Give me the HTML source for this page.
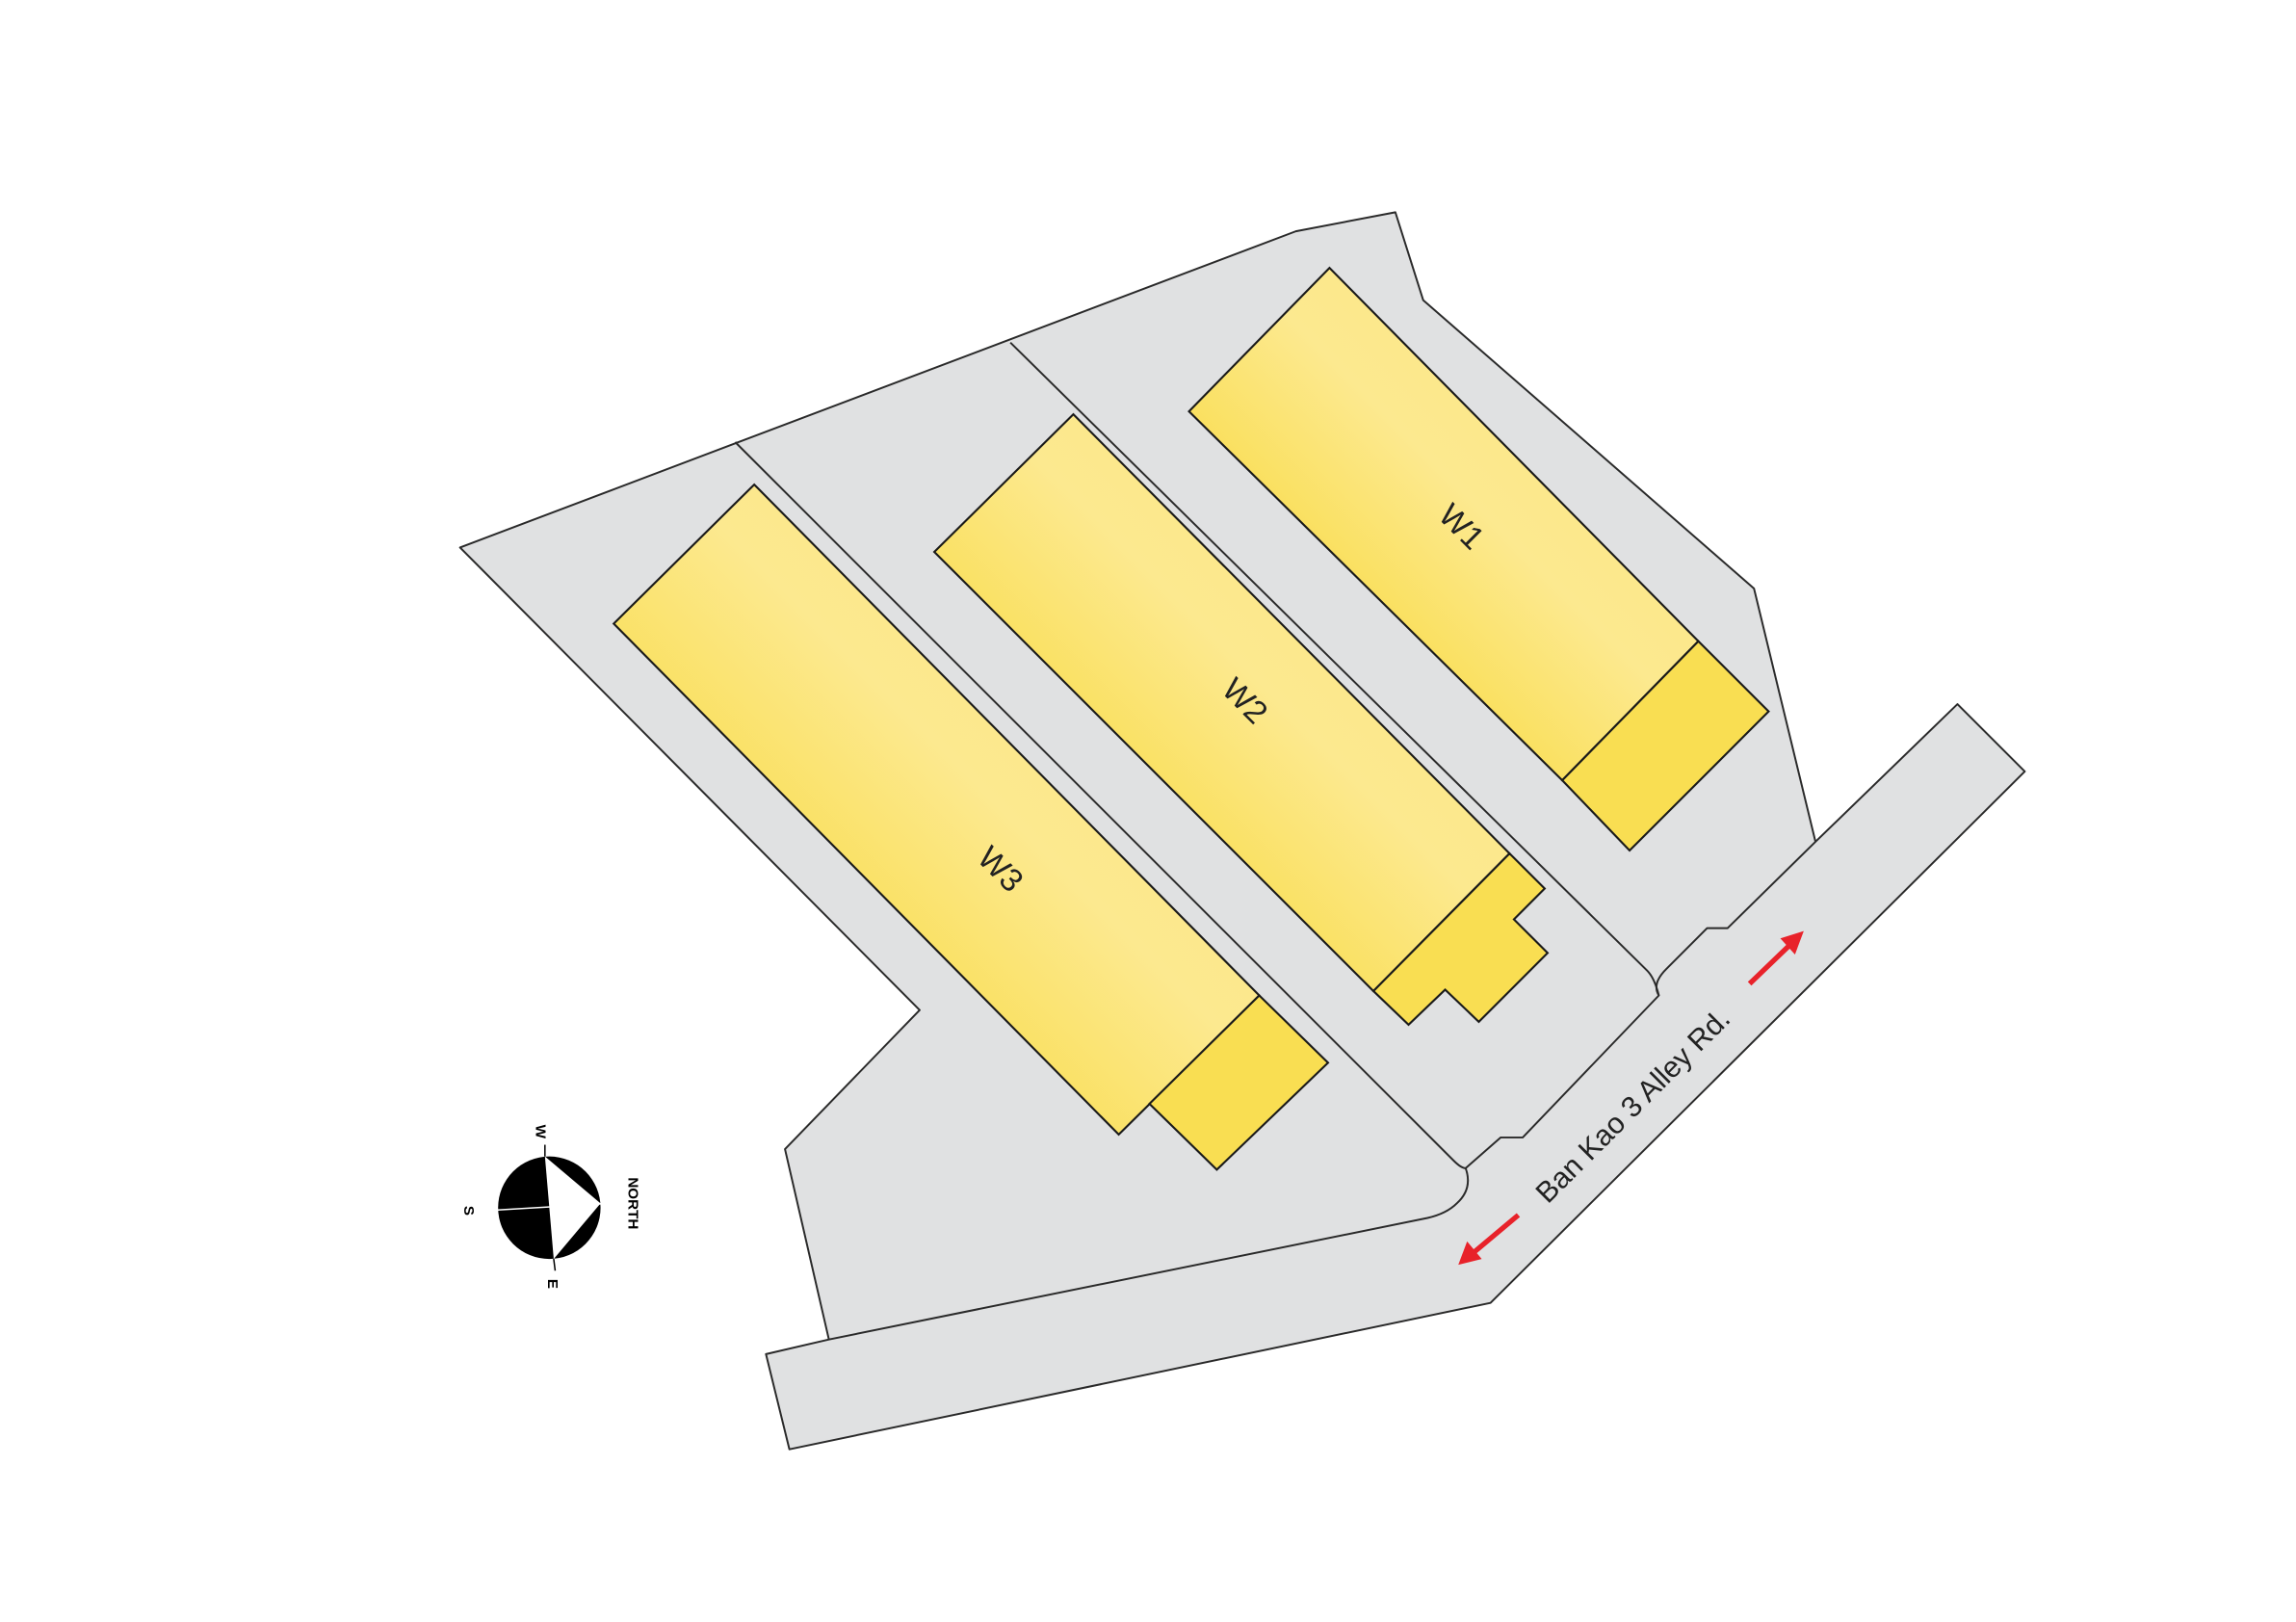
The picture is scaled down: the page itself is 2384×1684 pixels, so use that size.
<!DOCTYPE html>
<html><head><meta charset="utf-8"><style>
html,body{margin:0;padding:0;background:#fff;}
svg{display:block;}
text{font-family:"Liberation Sans",sans-serif;}
</style></head><body>
<svg width="2384" height="1684" viewBox="0 0 1568 1108" xmlns="http://www.w3.org/2000/svg">
<defs>
<linearGradient id="g" x1="0" y1="1" x2="1" y2="0" gradientUnits="objectBoundingBox">
<stop offset="0" stop-color="#f8d52a"/>
<stop offset="0.25" stop-color="#f9db45"/>
<stop offset="0.55" stop-color="#fce98f"/>
<stop offset="1" stop-color="#fbe47e"/>
</linearGradient>
</defs>
<rect width="1568" height="1108" fill="#fff"/>
<polygon fill="#e0e1e2" points="314,374 885,158 953,145 972,205 1198,402 1240,575 1337,481 1383,527 1018,890 539,990 523,925 566,915 536,785 628,690"/>
<g fill="none" stroke="#2a2a2a" stroke-width="1.3" stroke-linejoin="round">
<polyline points="566,915 536,785 628,690 314,374 885,158 953,145 972,205 1198,402 1240,575"/>
<path d="M1337,481 L1240,575 L1180,634 L1166,634 L1138,662 Q1128,672 1133,680 L1040,777 L1025,777 L1001,798 Q1006,812 995,822 Q988,829 975,832 L566,915 L523,925 L539,990 L1018,890 L1383,527 Z"/>
<path d="M502,302 L993,793 Q998,798 1001,798"/>
<path d="M690,234 L1125,663 Q1130,668 1133,680"/>
</g>
<g stroke="#1a1a1a" stroke-width="1.4" stroke-linejoin="miter">
<polygon fill="url(#g)" points="419,426 515,331 860,680 764,775"/>
<polygon fill="#f9de52" points="860,680 907,726 831,799 785,754"/>
<polygon fill="url(#g)" points="638,377 733,283 1031,583 938,677"/>
<polygon fill="#f9de52" points="1031,583 1055,607 1034,628 1057,651 1010,698 987,676 962,700 938,677"/>
<polygon fill="url(#g)" points="812,281 908,183 1160,438 1067,533"/>
<polygon fill="#f9de52" points="1160,438 1208,486 1113,581 1067,533"/>
</g>
<g font-size="22" fill="#222" text-anchor="middle">
<text transform="translate(993,365) rotate(45)">W1</text>
<text transform="translate(845,484) rotate(45)">W2</text>
<text transform="translate(678,599) rotate(45)">W3</text>
</g>
<text transform="translate(1120,760) rotate(-45)" font-size="20" fill="#222" text-anchor="middle">Ban Kao 3 Alley Rd.</text>
<g stroke="#e8222a" stroke-width="3.5" fill="#e8222a">
<line x1="1037" y1="830" x2="1006" y2="856"/>
<polygon stroke="none" points="996,864 1002,848 1012,860"/>
<line x1="1195" y1="672" x2="1222" y2="646"/>
<polygon stroke="none" points="1232,636 1226,652 1216,641"/>
</g>
<g>
<circle cx="375" cy="825" r="35" fill="#000"/>
<polygon fill="#fff" points="372,790 410,822 378,860"/>
<line x1="332" y1="827" x2="416" y2="822" stroke="#fff" stroke-width="1"/>
<line x1="372" y1="782" x2="372" y2="790" stroke="#000"/>
<line x1="378" y1="860" x2="379" y2="868" stroke="#000"/>
<g font-size="10" font-weight="bold" fill="#000" text-anchor="middle">
<text transform="translate(366,773) rotate(90)">W</text>
<text transform="translate(317,827) rotate(90)">S</text>
<text transform="translate(374,877) rotate(90)">E</text>
<text transform="translate(429,822) rotate(90)">NORTH</text>
</g>
</g>
</svg>
</body></html>
